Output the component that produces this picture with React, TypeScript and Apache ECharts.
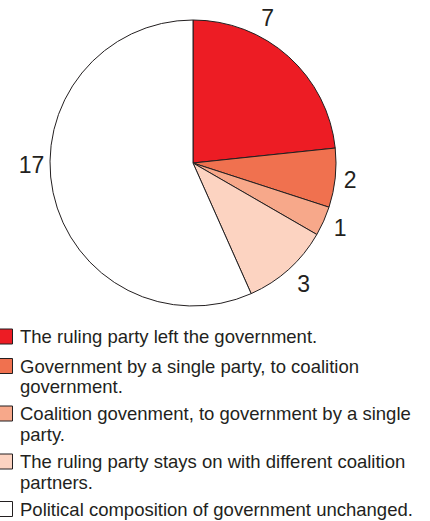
import React, { useEffect, useRef } from "react";
import * as echarts from "echarts";

const categories = [
  "The ruling party left the government.",
  "Government by a single party, to coalition\ngovernment.",
  "Coalition govenment, to government by a single\nparty.",
  "The ruling party stays on with different coalition\npartners.",
  "Political composition of government unchanged.",
];
const values = [7, 2, 1, 3, 17];
const colors = ["#ED1C24", "#F0714F", "#F7A88A", "#FCD3C1", "#FFFFFF"];

// label nudges (px) to match the reference placement
const labelNudges: [number, number][] = [
  [-33, -25],
  [-3, 0],
  [0, 0],
  [3, 1],
  [-4, -31],
];

// vertical centre of the first line of each legend entry
const legendCentres = [336.5, 366, 413.5, 461.5, 509];
const LINE_H = 20.5;

export default function App() {
  const ref = useRef<HTMLDivElement>(null);
  useEffect(() => {
    if (!ref.current) return;
    const chart = echarts.init(ref.current, undefined, { renderer: "svg" });
    const legendGraphics: any[] = [];
    categories.forEach((name, i) => {
      legendGraphics.push({
        type: "rect",
        shape: { x: -2.5, y: legendCentres[i] - 7.5, width: 15, height: 15 },
        style: { fill: colors[i], stroke: "#231F20", lineWidth: 1 },
      });
      legendGraphics.push({
        type: "text",
        x: 20,
        y: legendCentres[i] - LINE_H / 2,
        style: {
          text: name,
          fill: "#231F20",
          font: "18.5px 'Liberation Sans', Arial, sans-serif",
          lineHeight: LINE_H,
          textVerticalAlign: "top",
        },
      });
    });
    chart.setOption({
      animation: false,
      backgroundColor: "#ffffff",
      graphic: legendGraphics,
      series: [
        {
          type: "pie",
          center: [193, 163],
          radius: 143,
          startAngle: 90,
          clockwise: true,
          avoidLabelOverlap: false,
          silent: true,
          data: categories.map((name, i) => ({
            name,
            value: values[i],
            itemStyle: { color: colors[i] },
          })),
          itemStyle: { borderColor: "#231F20", borderWidth: 1 },
          label: {
            show: true,
            position: "outside",
            formatter: "{c}",
            color: "#231F20",
            fontSize: 23,
            fontFamily: "'Liberation Sans', Arial, sans-serif",
            distanceToLabelLine: 0,
          },
          labelLine: { show: false, length: 18, length2: 0 },
          labelLayout: (p: any) => ({
            dx: labelNudges[p.dataIndex][0],
            dy: labelNudges[p.dataIndex][1],
            align: "center",
            verticalAlign: "middle",
          }),
        },
      ],
    });
    return () => chart.dispose();
  }, []);
  return (
    <div
      ref={ref}
      style={{ position: "fixed", left: 0, top: 0, width: 430, height: 521 }}
    />
  );
}
